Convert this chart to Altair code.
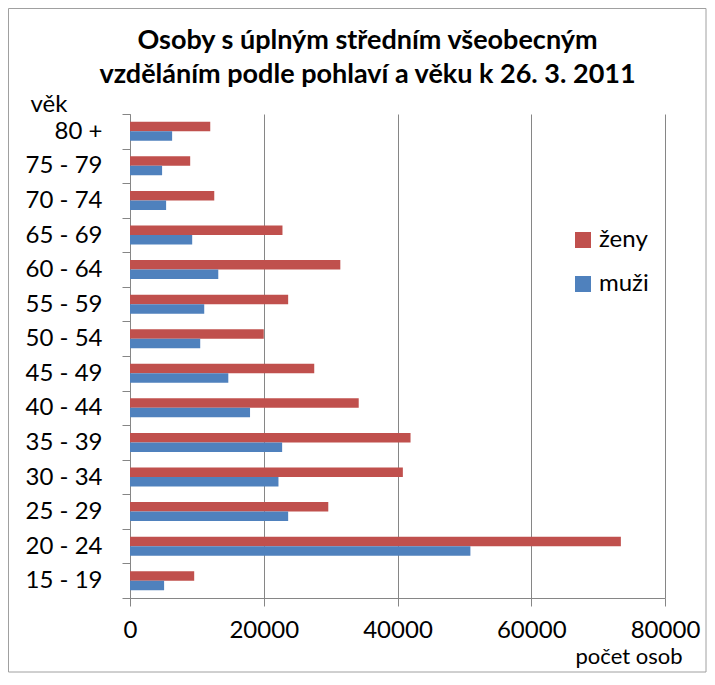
import altair as alt
import pandas as pd

ages = ["80 +", "75 - 79", "70 - 74", "65 - 69", "60 - 64", "55 - 59", "50 - 54",
        "45 - 49", "40 - 44", "35 - 39", "30 - 34", "25 - 29", "20 - 24", "15 - 19"]
zeny = [12000, 9000, 12600, 22800, 31450, 23650, 20000, 27550, 34200, 41950, 40800, 29650, 73400, 9600]
muzi = [6300, 4800, 5400, 9300, 13200, 11100, 10500, 14700, 17950, 22750, 22200, 23650, 50900, 5100]
series = ["ženy", "muži"]
colors = ["#C0504D", "#4F81BD"]
x_ticks = [0, 20000, 40000, 60000, 80000]

rows = []
for a, z, m in zip(ages, zeny, muzi):
    rows.append({"vek": a, "pohlavi": "ženy", "pocet": z})
    rows.append({"vek": a, "pohlavi": "muži", "pocet": m})
df = pd.DataFrame(rows)

FONT = "Lato"
GRAY = "#868686"

bars = alt.Chart(df).mark_bar().encode(
    x=alt.X("pocet:Q",
            scale=alt.Scale(domain=[0, 80000], nice=False),
            axis=alt.Axis(values=x_ticks, format="d", grid=True, gridColor=GRAY,
                          domainColor=GRAY, tickColor=GRAY, tickSize=8,
                          labelFontSize=24, labelFont=FONT, labelColor="black",
                          labelFlush=False, labelPadding=12,
                          title="počet osob", titleFont=FONT,
                          titleFontSize=22, titleFontWeight="normal", titleColor="black",
                          titleAlign="right", titleBaseline="middle",
                          titleX=552, titleY=58)),
    y=alt.Y("vek:N", sort=ages,
            scale=alt.Scale(paddingInner=0, paddingOuter=0),
            axis=alt.Axis(tickBand="extent", domainColor=GRAY, tickColor=GRAY, tickSize=8,
                          labelFontSize=24, labelFont=FONT, labelColor="black",
                          labelPadding=20, title="věk", titleFont=FONT, titleFontSize=24,
                          titleFontWeight="normal", titleColor="black", titleAngle=0,
                          titleAlign="left", titleBaseline="middle", titleX=-100, titleY=-10)),
    yOffset=alt.YOffset("pohlavi:N", sort=series,
                        scale=alt.Scale(domain=series, paddingInner=0, paddingOuter=0.82)),
    color=alt.Color("pohlavi:N", scale=alt.Scale(domain=series, range=colors),
                    legend=alt.Legend(title=None, orient="none", legendX=441, legendY=114,
                                      symbolType="square", symbolSize=256, symbolStrokeWidth=0,
                                      labelFont=FONT, labelFontSize=24, labelColor="black",
                                      labelOffset=4, rowPadding=20)),
)

frame = alt.Chart(pd.DataFrame({"f": [0]})).mark_rect(
    fill=None, stroke="#A0A0A0", strokeWidth=1
).encode(x=alt.value(-121.5), x2=alt.value(576), y=alt.value(-105.5), y2=alt.value(558))

chart = alt.layer(frame, bars).properties(
    width=535, height=484,
    title=alt.Title(["Osoby s úplným středním všeobecným",
                     "vzděláním podle pohlaví a věku k 26. 3. 2011"],
                    font=FONT, fontSize=27, fontWeight="bold", color="black",
                    anchor="middle", dx=-30, offset=-81, lineHeight=34),
    autosize=alt.AutoSizeParams(type="none"),
    padding={"left": 122, "top": 106, "right": 42, "bottom": 75},
).configure_view(stroke=None)

chart.save("out.html", embed_options={"renderer": "svg", "actions": False})
